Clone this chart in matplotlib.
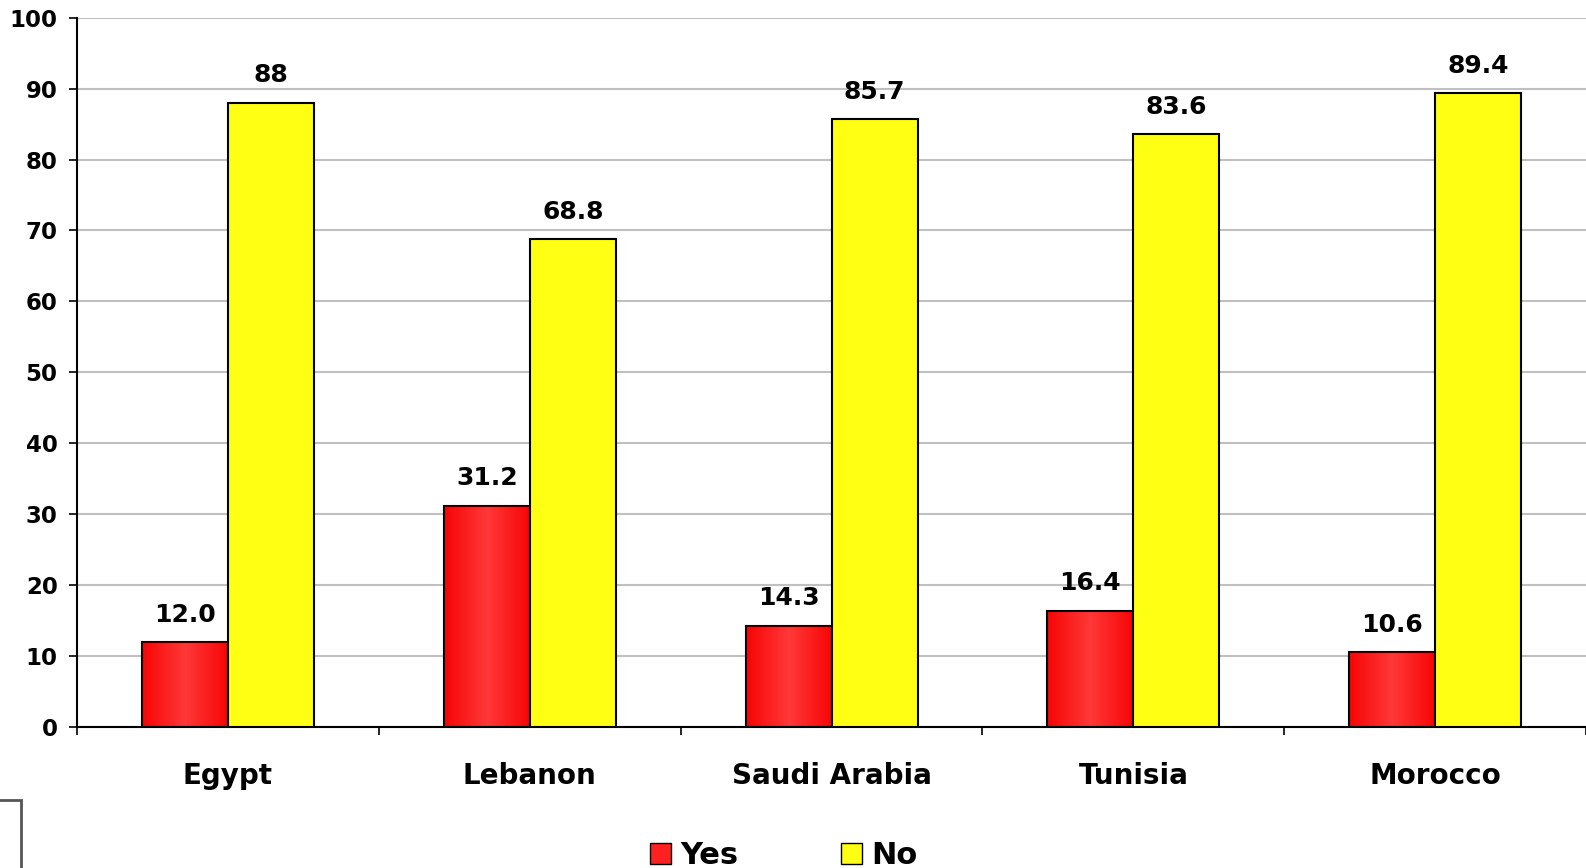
import numpy as np
import matplotlib.pyplot as plt
from matplotlib.patches import Patch, Rectangle

# data
countries = ['Egypt', 'Lebanon', 'Saudi Arabia', 'Tunisia', 'Morocco']
yes_vals = [12.0, 31.2, 14.3, 16.4, 10.6]
no_vals = [88, 68.8, 85.7, 83.6, 89.4]
yes_labels = ['12.0', '31.2', '14.3', '16.4', '10.6']
no_labels = ['88', '68.8', '85.7', '83.6', '89.4']

plt.rcParams['font.family'] = ['DejaVu Sans']
plt.rcParams['font.weight'] = 'bold'

fig = plt.figure(figsize=(15.86, 8.68), dpi=100)
ax = fig.add_axes([0.0486, 0.1624, 0.9514, 0.8173])

x = np.arange(len(countries))
w = 0.285

bars_yes = ax.bar(x - w / 2, yes_vals, w, facecolor='none', edgecolor='black', linewidth=1.5, zorder=3)
bars_no = ax.bar(x + w / 2, no_vals, w, color='#ffff14', edgecolor='black', linewidth=1.5, zorder=3)

# red horizontal gradient (darker edges, lighter middle)
t = np.linspace(0, 1, 100)
s = 1 - np.abs(t - 0.5) * 2
grad = np.zeros((1, 100, 3))
grad[0, :, 0] = 0.97 + 0.03 * s
grad[0, :, 1] = 0.02 + 0.2 * s
grad[0, :, 2] = 0.02 + 0.2 * s
for b in bars_yes:
    x0 = b.get_x()
    ax.imshow(grad, extent=(x0, x0 + b.get_width(), 0, b.get_height()),
              aspect='auto', zorder=2, interpolation='bilinear')

for b, lab in zip(bars_yes, yes_labels):
    ax.annotate(lab, (b.get_x() + b.get_width() / 2, b.get_height()), xytext=(0, 11),
                textcoords='offset points', ha='center', va='bottom', fontsize=18, fontweight='bold')
for b, lab in zip(bars_no, no_labels):
    ax.annotate(lab, (b.get_x() + b.get_width() / 2, b.get_height()), xytext=(0, 11),
                textcoords='offset points', ha='center', va='bottom', fontsize=18, fontweight='bold')

ax.set_xlim(-0.5, len(countries) - 0.5)
ax.set_ylim(0, 100)
ax.set_yticks(np.arange(0, 101, 10))
ax.yaxis.grid(True, color='#c0c0c0', linewidth=1.5)
ax.set_axisbelow(True)

ax.set_xticks(np.arange(-0.5, len(countries), 1.0))
ax.set_xticklabels([])
ax.set_xticks(x, minor=True)
ax.set_xticklabels(countries, minor=True, fontsize=20, fontweight='bold')
ax.tick_params(axis='x', which='major', length=6, width=1.2, direction='out')
ax.tick_params(axis='x', which='minor', length=0, pad=25)
ax.tick_params(axis='y', length=6, width=1.2, pad=8, labelsize=16.5)

for sp in ['top', 'right']:
    ax.spines[sp].set_visible(False)
ax.spines['left'].set_linewidth(1.5)
ax.spines['bottom'].set_linewidth(1.5)

handles = [Patch(facecolor='#ff2020', edgecolor='black', label='Yes'),
           Patch(facecolor='#ffff14', edgecolor='black', label='No')]
leg = fig.legend(handles=handles, loc='center', bbox_to_anchor=(0.494, 0.014), ncol=2,
                 frameon=False, handlelength=0.7, handleheight=0.7, handletextpad=0.3,
                 columnspacing=3.35, prop={'family': ['Liberation Sans Narrow', 'DejaVu Sans'],
                                            'weight': 'bold', 'size': 22})

# small box fragment at bottom-left corner
fig.patches.append(Rectangle((-0.01, -0.01), 0.0235, 0.088, transform=fig.transFigure,
                             facecolor='white', edgecolor='#555555', linewidth=2))

plt.savefig('out.png', dpi=100)
